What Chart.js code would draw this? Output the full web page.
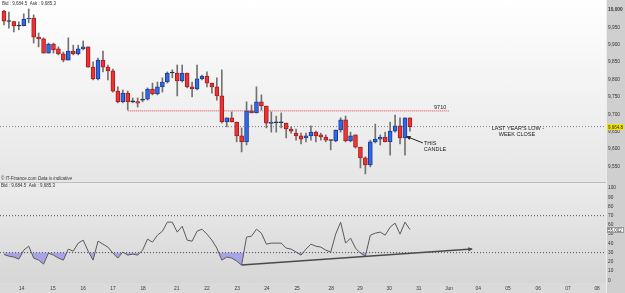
<!DOCTYPE html>
<html>
<head>
<meta charset="utf-8">
<script src="https://cdn.jsdelivr.net/npm/chart.js@4.4.1/dist/chart.umd.min.js"></script>
<style>
  html, body { margin: 0; padding: 0; width: 625px; height: 293px; overflow: hidden; background: #bdbdbd; }
  #panelPrecio { position: absolute; left: 0; top: 0; width: 606px; height: 182px; background: linear-gradient(#ffffff, #e6e6e6); }
  #panelRsi { position: absolute; left: 0; top: 183px; width: 606px; height: 100px; background: linear-gradient(#ececec, #d6d6d6); }
  #ejeFechas { position: absolute; left: 0; top: 283px; width: 606px; height: 10px; background: #dadada; }
  #ejeDerecho { position: absolute; left: 606px; top: 0; width: 19px; height: 293px; background: #cfcfcf; border-left: 1px solid #ececec; box-sizing: border-box; }
  canvas { position: absolute; left: 0; }
  #grafPrecio { top: 0; }
  #grafRsi { top: 183px; }
</style>
</head>
<body>
<div id="panelPrecio"></div>
<div id="panelRsi"></div>
<div id="ejeFechas"></div>
<div id="ejeDerecho"></div>
<canvas id="grafPrecio" width="625" height="182"></canvas>
<canvas id="grafRsi" width="625" height="110"></canvas>
<script>
// Velas de 4 horas (apertura, maximo, minimo, cierre)
const apertura = [9997, 9968, 9967, 9954, 9955, 9974, 9977, 9922, 9917, 9876, 9902, 9888, 9874, 9856, 9882, 9874, 9888, 9894, 9836, 9802,
  9856, 9836, 9825, 9767, 9736, 9761, 9736, 9737, 9741, 9744, 9773, 9759, 9779, 9793, 9819, 9819, 9796, 9819, 9779, 9773,
  9802, 9810, 9790, 9779, 9753, 9678, 9690, 9678, 9638, 9621, 9710, 9704, 9736, 9724, 9674, 9676, 9676, 9675, 9658, 9646,
  9638, 9632, 9638, 9649, 9641, 9635, 9626, 9624, 9655, 9684, 9624, 9641, 9606, 9575, 9555, 9621, 9629, 9635, 9621, 9652,
  9667, 9632, 9690];
const maximo = [9999, 9994, 9968, 9966, 9989, 10003, 9986, 9934, 9920, 9905, 9905, 9894, 9879, 9920, 9899, 9899, 9911, 9894, 9851, 9862,
  9882, 9842, 9830, 9779, 9770, 9767, 9747, 9747, 9764, 9776, 9790, 9793, 9805, 9822, 9828, 9842, 9842, 9819, 9793, 9842,
  9813, 9822, 9790, 9805, 9828, 9690, 9707, 9678, 9661, 9736, 9727, 9779, 9756, 9724, 9707, 9695, 9704, 9675, 9664, 9658,
  9646, 9646, 9667, 9652, 9646, 9641, 9626, 9655, 9690, 9695, 9649, 9641, 9606, 9578, 9626, 9672, 9641, 9649, 9678, 9698,
  9690, 9690, 9690];
const minimo = [9957, 9948, 9937, 9943, 9954, 9963, 9905, 9894, 9876, 9876, 9876, 9871, 9851, 9856, 9871, 9871, 9885, 9836, 9799, 9799,
  9822, 9799, 9764, 9733, 9733, 9713, 9733, 9721, 9736, 9741, 9756, 9756, 9764, 9790, 9805, 9753, 9793, 9776, 9750, 9770,
  9799, 9779, 9761, 9741, 9675, 9664, 9678, 9621, 9592, 9612, 9704, 9704, 9713, 9661, 9649, 9649, 9661, 9632, 9646, 9626,
  9615, 9621, 9626, 9621, 9626, 9621, 9598, 9621, 9649, 9621, 9621, 9603, 9546, 9529, 9549, 9618, 9612, 9621, 9583, 9649,
  9615, 9583, 9652];
const cierre = [9968, 9967, 9954, 9955, 9974, 9977, 9922, 9917, 9876, 9902, 9885, 9874, 9856, 9882, 9874, 9888, 9894, 9836, 9802, 9856,
  9836, 9825, 9767, 9736, 9761, 9736, 9738, 9732, 9743, 9773, 9759, 9779, 9793, 9819, 9820, 9796, 9819, 9779, 9773, 9802,
  9810, 9790, 9779, 9753, 9678, 9690, 9678, 9638, 9621, 9710, 9704, 9736, 9724, 9675, 9678, 9677, 9676, 9658, 9652, 9638,
  9629, 9638, 9649, 9638, 9635, 9626, 9625, 9655, 9684, 9624, 9638, 9606, 9575, 9555, 9621, 9629, 9635, 9621, 9652, 9667,
  9632, 9690, 9664.8];

// RSI por vela
const rsi = [27.9, 26.2, 25.2, 23.0, 32.7, 37.0, 24.1, 21.9, 17.6, 29.5, 27.3, 24.1, 21.9, 33.8, 31.6, 40.3, 43.5, 31.6, 21.9, 42.4,
  39.2, 36.0, 29.5, 24.1, 30.6, 27.3, 28.4, 27.3, 32.7, 44.6, 41.4, 48.9, 53.2, 63.0, 63.0, 52.2, 58.6, 43.5, 42.4, 53.2,
  55.4, 50.0, 43.5, 34.9, 21.9, 25.2, 24.1, 20.8, 16.5, 46.8, 47.8, 55.4, 51.1, 39.2, 40.3, 40.3, 40.3, 34.9, 33.8, 30.6,
  27.3, 33.8, 39.2, 37.0, 36.0, 32.7, 30.6, 50.0, 63.0, 40.3, 45.7, 34.9, 29.5, 26.2, 48.9, 51.1, 52.2, 48.9, 57.6, 61.9,
  50.0, 63.0, 55.002];

// Eje de fechas (posicion en velas)
const etiquetasDias = ['14', '15', '16', '17', '18', '21', '22', '23', '24', '25', '28', '29', '30', '31', 'Jun', '04', '05', '06', '07', '08'];
const posicionesDias = [3.6, 9.9, 16, 22, 28.1, 34.9, 41, 47.1, 53.1, 59.2, 66.1, 71.9, 77.8, 83.8, 89.9, 95.8, 101.8, 107.9, 113.9, 119.8];

const nivelesPrecio = [9550, 9600, 9650, 9700, 9750, 9800, 9850, 9900, 9950, 10000];
const nivelesRsi = [0, 10, 20, 30, 40, 50, 60, 70, 80, 90, 100];
const nivel9710 = 9710;
const rsiSobrecompra = 70;
const rsiSobreventa = 30;
// linea de tendencia del RSI: [vela, valor]
const tendenciaRsi = [[48, 16.5], [94.5, 33.8]];
// flecha "THIS CANDLE": [vela, precio]
const flechaVela = [[84.6, 9618], [81.4, 9636]];

const xMin = -0.8, xMax = 121.6;
const fuente = '"Liberation Sans", Arial, sans-serif';
Chart.defaults.font.family = fuente;
Chart.defaults.animation = false;

const ultimoPrecio = cierre[cierre.length - 1];
const ultimoRsi = rsi[rsi.length - 1];

function formatoMiles(v) {
  const s = Math.round(v).toString();
  return s.length > 3 ? s.slice(0, -3) + ',' + s.slice(-3) : s;
}

function colorVela(i, rojo, azul, neutro) {
  const d = cierre[i] - apertura[i];
  if (Math.abs(d) < 3) return neutro;
  return d > 0 ? azul : rojo;
}

// Flecha al final de los datasets que tengan "flecha"
const flechas = {
  id: 'flechas',
  afterDatasetsDraw(chart) {
    chart.data.datasets.forEach((ds, i) => {
      if (!ds.flecha) return;
      const pts = chart.getDatasetMeta(i).data;
      const a = pts[pts.length - 2], b = pts[pts.length - 1];
      const ang = Math.atan2(b.y - a.y, b.x - a.x);
      const t = ds.flecha;
      const c = chart.ctx;
      c.save();
      c.translate(b.x, b.y);
      c.rotate(ang);
      c.beginPath();
      c.moveTo(1, 0);
      c.lineTo(-t * 1.6, -t);
      c.lineTo(-t * 1.6, t);
      c.closePath();
      c.fillStyle = ds.borderColor;
      c.fill();
      c.restore();
    });
  }
};

// Textos: en coordenadas de datos (items) o fijos en el lienzo
const notas = {
  id: 'notas',
  afterDatasetsDraw(chart, args, opts) {
    const c = chart.ctx;
    (opts.items || []).forEach(n => {
      const x = chart.scales.x.getPixelForValue(n.x);
      const y = chart.scales.y.getPixelForValue(n.y);
      c.save();
      c.font = (n.estilo || '') + ' ' + (n.tam || 5.5) + 'px ' + fuente;
      c.fillStyle = n.color || '#222';
      c.textAlign = n.align || 'left';
      c.textBaseline = 'middle';
      c.fillText(n.texto, x, y);
      c.restore();
    });
    (opts.fijos || []).forEach(n => {
      c.save();
      c.font = (n.estilo || '') + ' ' + (n.tam || 4.5) + 'px ' + fuente;
      c.fillStyle = n.color || '#333';
      c.textBaseline = 'middle';
      c.fillText(n.texto, n.px, n.py);
      c.restore();
    });
  }
};

// Marca del ultimo valor sobre el eje derecho
const marcaEje = {
  id: 'marcaEje',
  afterDraw(chart, args, opts) {
    if (!opts.texto) return;
    const s = chart.scales.y, c = chart.ctx;
    const y = Math.round(s.getPixelForValue(opts.valor));
    c.save();
    c.fillStyle = opts.fondo;
    c.fillRect(s.left + 1, y - 3, 17, 6);
    if (opts.borde) {
      c.strokeStyle = opts.borde;
      c.lineWidth = 1;
      c.strokeRect(s.left + 1.5, y - 2.5, 16, 5);
    }
    c.fillStyle = '#222';
    c.font = '4.5px ' + fuente;
    c.textBaseline = 'middle';
    c.fillText(opts.texto, s.left + 2, y + 0.5);
    c.restore();
  }
};

const indices = cierre.map((_, i) => i);

// --- Grafico de precio (velas) ---
new Chart(document.getElementById('grafPrecio'), {
  type: 'bar',
  data: {
    datasets: [
      {
        type: 'line',
        data: [{ x: 25, y: nivel9710 }, { x: 90, y: nivel9710 }],
        borderColor: '#e53935', borderWidth: 1, borderDash: [1, 1], pointRadius: 0, order: 5
      },
      {
        type: 'line',
        data: [{ x: xMin, y: ultimoPrecio }, { x: xMax, y: ultimoPrecio }],
        borderColor: '#808080', borderWidth: 1, borderDash: [1, 2], pointRadius: 0, order: 5
      },
      {
        data: indices.map(i => ({ x: i, y: [minimo[i], maximo[i]] })),
        backgroundColor: '#727272', barThickness: 1, grouped: false, order: 3
      },
      {
        data: indices.map(i => ({ x: i, y: [apertura[i], cierre[i]] })),
        backgroundColor: indices.map(i => colorVela(i, '#ee3333', '#3069e6', '#1d2b4f')),
        borderColor: indices.map(i => colorVela(i, '#a81c1c', '#1b3d99', '#1d2b4f')),
        borderWidth: 1, borderSkipped: false, barThickness: 4, minBarLength: 1, grouped: false, order: 2
      },
      {
        type: 'line',
        data: flechaVela.map(p => ({ x: p[0], y: p[1] })),
        borderColor: '#222', borderWidth: 1, pointRadius: 0, flecha: 2.2, order: 1
      }
    ]
  },
  options: {
    responsive: false,
    layout: { padding: 0 },
    plugins: {
      legend: { display: false },
      tooltip: { enabled: false },
      marcaEje: { valor: ultimoPrecio, texto: '9,664.8', fondo: '#f2e300' },
      notas: {
        items: [
          { texto: '9710', x: 88.1, y: 9721, align: 'center' },
          { texto: 'THIS', x: 84.8, y: 9617 },
          { texto: 'CANDLE', x: 84.8, y: 9600 },
          { texto: "LAST YEAR'S LOW -", x: 103.8, y: 9658, align: 'center' },
          { texto: 'WEEK CLOSE', x: 103.6, y: 9641, align: 'center' }
        ],
        fijos: [
          { texto: 'Bid : 9,684.5  Ask : 9,685.3', px: 2, py: 4 },
          { texto: '\u00A9 IT-Finance.com', px: 1, py: 179 },
          { texto: 'Data is indicative', px: 38, py: 179, estilo: 'italic' }
        ]
      }
    },
    scales: {
      x: { type: 'linear', display: false, min: xMin, max: xMax, offset: false },
      y: {
        position: 'right', min: 9505.6, max: 10028.7,
        afterBuildTicks: s => { s.ticks = nivelesPrecio.map(v => ({ value: v })); },
        afterFit: s => { s.width = 19; s.paddingTop = 0; s.paddingBottom = 0; },
        grid: { display: false, drawTicks: false },
        border: { display: false },
        ticks: {
          padding: 2, color: '#333',
          font: ctx => ({ size: 4.8, weight: ctx.tick && ctx.tick.value === 10000 ? 'bold' : 'normal' }),
          callback: v => formatoMiles(v)
        }
      }
    }
  },
  plugins: [flechas, notas, marcaEje]
});

// --- Grafico RSI ---
new Chart(document.getElementById('grafRsi'), {
  type: 'line',
  data: {
    datasets: [
      {
        data: [{ x: xMin, y: rsiSobrecompra }, { x: xMax, y: rsiSobrecompra }],
        borderColor: '#555', borderWidth: 1, borderDash: [1, 2], pointRadius: 0
      },
      {
        data: [{ x: xMin, y: rsiSobreventa }, { x: xMax, y: rsiSobreventa }],
        borderColor: '#555', borderWidth: 1, borderDash: [1, 2], pointRadius: 0
      },
      {
        data: rsi.map((v, i) => ({ x: i, y: v })),
        borderColor: '#5a5a5a', borderWidth: 1, pointRadius: 0, tension: 0,
        fill: { target: { value: rsiSobreventa }, above: 'rgba(0,0,0,0)', below: '#a4a4e6' }
      },
      {
        data: tendenciaRsi.map(p => ({ x: p[0], y: p[1] })),
        borderColor: '#4a4a4a', borderWidth: 1.5, pointRadius: 0, flecha: 2.2
      }
    ]
  },
  options: {
    responsive: false,
    layout: { padding: 0 },
    plugins: {
      legend: { display: false },
      tooltip: { enabled: false },
      marcaEje: { valor: ultimoRsi, texto: ultimoRsi.toFixed(3), fondo: '#ffffff', borde: '#999' },
      notas: {
        fijos: [{ texto: 'Bid : 9,684.5  Ask : 9,685.3', px: 1, py: 3 }]
      }
    },
    scales: {
      x: {
        type: 'linear', min: xMin, max: xMax, offset: false,
        afterBuildTicks: s => { s.ticks = posicionesDias.map(v => ({ value: v })); },
        afterFit: s => { s.height = 10; s.paddingLeft = 0; s.paddingRight = 0; },
        grid: { display: false, drawTicks: false },
        border: { display: false },
        ticks: {
          padding: 3, color: '#333', font: { size: 4.8 }, maxRotation: 0, autoSkip: false,
          callback: (v, i) => etiquetasDias[i]
        }
      },
      y: {
        position: 'right', min: -2.9, max: 105.4,
        afterBuildTicks: s => { s.ticks = nivelesRsi.map(v => ({ value: v })); },
        afterFit: s => { s.width = 19; s.paddingTop = 0; s.paddingBottom = 0; },
        grid: { display: false, drawTicks: false },
        border: { display: false },
        ticks: { padding: 2, color: '#333', font: { size: 4.8 } }
      }
    }
  },
  plugins: [flechas, notas, marcaEje]
});
</script>
</body>
</html>
